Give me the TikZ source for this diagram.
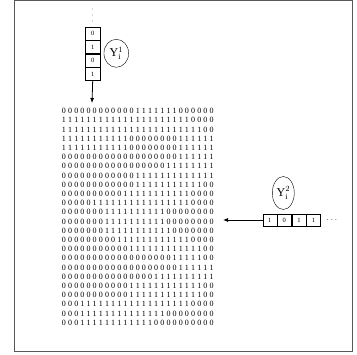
\documentclass[tikz,border=0pt]{standalone}
\usepackage{fontspec}
\setmainfont{Liberation Serif}
\usepackage{tikz}
\usetikzlibrary{positioning,arrows.meta,shapes.geometric}

% one digit per fixed-width cell
\def\cellw{6.15pt}
\def\bitrow#1{\ifx#1\relax\else\makebox[\cellw]{#1}\expandafter\bitrow\fi}

\begin{document}
\begin{tikzpicture}[
  x=1pt, y=-1pt,
  bit/.style={draw, minimum width=14.7pt, minimum height=13pt, inner sep=0pt,
              font=\fontsize{6.5}{6.5}\selectfont},
  hbit/.style={bit, minimum width=14.15pt, minimum height=11.7pt},
  lab/.style={draw, ellipse, inner sep=0pt, font=\fontsize{12}{12}\selectfont},
  rowtxt/.style={anchor=west, inner sep=0pt, font=\fontsize{8}{8}\selectfont},
  arr/.style={-{Latex[length=5pt,width=4pt]}, thick},
]
\useasboundingbox (0,0) rectangle (357,355);
% ---- frame -----------------------------------------------------------
\draw[line width=1pt, gray!70!black] (14,1) rectangle (352,352);
% ---- vertical sequence Y^1 -------------------------------------------
\foreach \yy in {9,15,21}
  \fill[gray] (92.3,\yy) circle (0.5);
\node[bit] (v1) at (92.7,33.8) {0};
\node[bit, below=0pt of v1] (v2) {1};
\node[bit, below=0pt of v2] (v3) {0};
\node[bit, below=0pt of v3] (v4) {1};
\node[lab, minimum width=24.7pt, minimum height=28pt] (y1) at (116.3,53.3)
  {$\mathrm{Y}^{1}_{\mathrm{i}}$};
% ---- image matrix ------------------------------------------------------
\foreach \bits [count=\i] in {
  0000000000001111111000000, 1111111111111111111110000,
  1111111111111111111111100, 1111111111100000000111111,
  1111111111100000000111111, 0000000000000000000111111,
  0000000000000000011111111, 0000000000001111111111111,
  0000000000001111111111100, 0000000000111111111110000,
  0000011111111111111110000, 0000000111111111100000000,
  0000000111111111100000000, 0000000111111111110000000,
  0000000001111111111110000, 0000000000011111111111100,
  0000000000000000001111100, 0000000000000000000111111,
  0000000000000001111111111, 0000000000011111111111100,
  0000000000011111111111100, 0001111111111111111110000,
  0001111111111111100000000, 0001111111111110000000000}
  \node[rowtxt] (row\i) at (60.7,{111+9.2*(\i-1)}) {\expandafter\bitrow\bits\relax};
\coordinate (intop) at (92,103);
\draw[arr] (v4.south) -- (intop);
% ---- horizontal sequence Y^2 -----------------------------------------
\node[hbit] (h1) at (269.8,220) {1};
\node[hbit, right=0pt of h1] (h2) {0};
\node[hbit, right=0pt of h2] (h3) {1};
\node[hbit, right=0pt of h3] (h4) {1};
\node[inner sep=0pt, right=6pt of h4, font=\fontsize{7}{7}\selectfont] (hdots) {.\,\,.\,\,.};
\node[lab, minimum width=22pt, minimum height=33pt] (y2) at (283.3,193)
  {$\mathrm{Y}^{2}_{\mathrm{i}}$};
\coordinate (inright) at (223,220);
\draw[arr] (h1.west) -- (inright);
\end{tikzpicture}
\end{document}
